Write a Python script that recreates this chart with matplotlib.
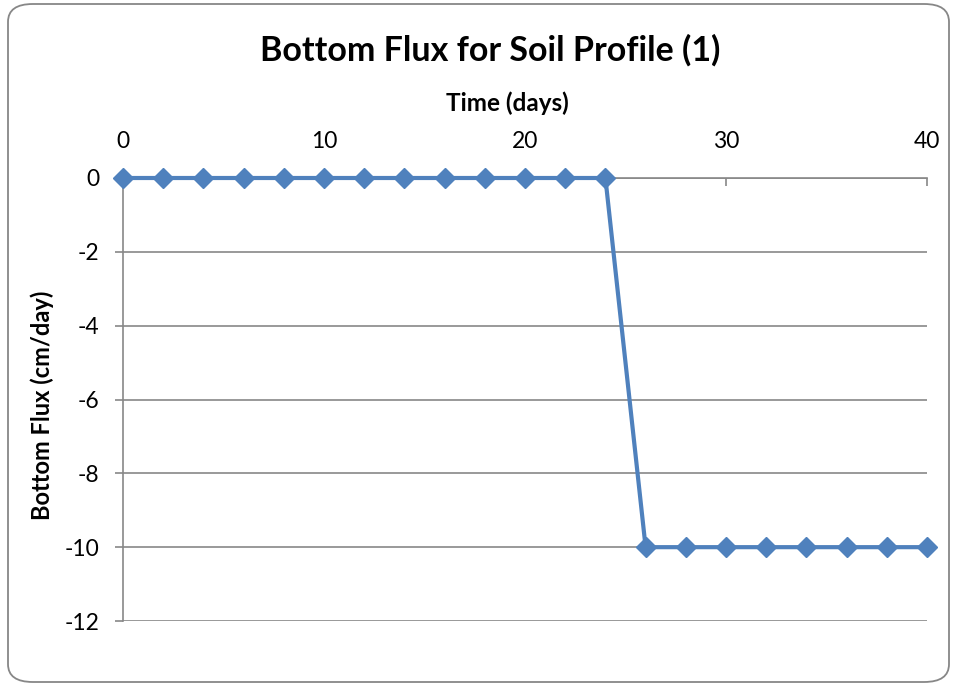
import matplotlib
matplotlib.use("Agg")
import matplotlib.pyplot as plt
from matplotlib.patches import FancyBboxPatch

plt.rcParams['font.family'] = ['Lato', 'DejaVu Sans']
plt.rcParams['axes.unicode_minus'] = False

time_days = [0, 2, 4, 6, 8, 10, 12, 14, 16, 18, 20, 22, 24, 26, 28, 30, 32, 34, 36, 38, 40]
bottom_flux = [0, 0, 0, 0, 0, 0, 0, 0, 0, 0, 0, 0, 0, -10, -10, -10, -10, -10, -10, -10, -10]
x_ticks = [0, 10, 20, 30, 40]
y_ticks = [0, -2, -4, -6, -8, -10, -12]

W, H = 956, 685
fig = plt.figure(figsize=(W / 100, H / 100), dpi=100)
border = FancyBboxPatch((8 / W, 3 / H), 941 / W, 678 / H,
                        boxstyle="round,pad=0,rounding_size=0.026",
                        transform=fig.transFigure, fill=False, edgecolor='#878787', linewidth=1.3)
fig.patches.append(border)

ax = fig.add_axes([123 / W, 1 - 621 / H, (927 - 123) / W, (621 - 178) / H])
ax.plot(time_days, bottom_flux, color='#4F81BD', linewidth=3, marker='D', markersize=10,
        markerfacecolor='#4F81BD', markeredgecolor='#4F81BD', clip_on=False, zorder=5)

ax.set_xlim(0, 40)
ax.set_ylim(-12, 0)
ax.set_xticks(x_ticks)
ax.set_yticks(y_ticks)
ax.xaxis.tick_top()
ax.tick_params(axis='x', direction='in', length=6, width=1.2, color='#878787', labelsize=16.5, pad=19)
ax.tick_params(axis='y', direction='out', length=6, width=1.2, color='#878787', labelsize=16.5, pad=11)
ax.grid(axis='y', color='#878787', linewidth=1.2)
ax.set_axisbelow(True)
for s in ['right', 'bottom']:
    ax.spines[s].set_visible(False)
for s in ['top', 'left']:
    ax.spines[s].set_color('#878787')
    ax.spines[s].set_linewidth(1.2)

fig.text(507 / W, 1 - 103 / H, 'Time (days)', fontsize=17.5, fontweight='bold', ha='center', va='center')
fig.text(42 / W, 1 - 405 / H, 'Bottom Flux (cm/day)', fontsize=17, fontweight='bold',
         ha='center', va='center', rotation=90)
fig.text(490 / W, 1 - 50 / H, 'Bottom Flux for Soil Profile (1)', fontsize=24.5, fontweight='bold',
         ha='center', va='center')

fig.savefig('out.png', dpi=100)
